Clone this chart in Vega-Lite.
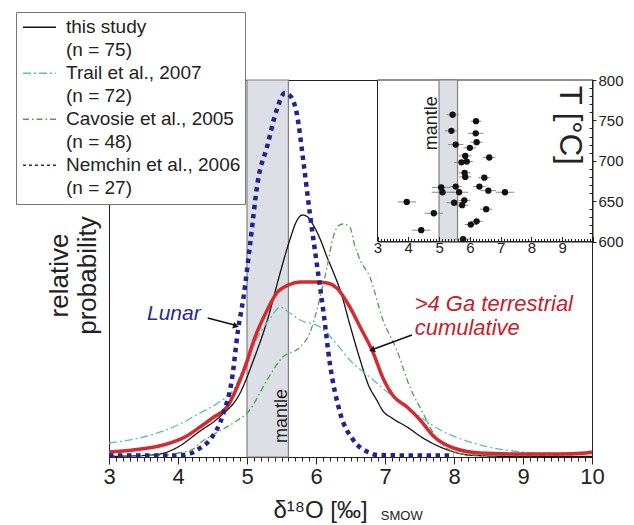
{
  "$schema": "https://vega.github.io/schema/vega-lite/v6.json",
  "width": 483,
  "height": 377,
  "autosize": {"type": "none"},
  "padding": {"left": 109, "top": 80, "right": 42, "bottom": 68},
  "config": {
    "font": "Liberation Sans",
    "view": {"stroke": "#222", "strokeWidth": 1},
    "axis": {"domainColor": "#222", "tickColor": "#222", "labelColor": "#222", "titleColor": "#222", "labelFont": "Liberation Sans", "titleFont": "Liberation Sans", "grid": false, "titleFontWeight": "normal", "zindex": 1}
  },
  "datasets": {
    "curves": [
      {"s": "this study", "x": 3.0, "y": 0.5}, {"s": "this study", "x": 3.3, "y": 1}, {"s": "this study", "x": 3.7, "y": 2.5}, {"s": "this study", "x": 4.0, "y": 10}, {"s": "this study", "x": 4.3, "y": 25}, {"s": "this study", "x": 4.6, "y": 40}, {"s": "this study", "x": 4.9, "y": 64}, {"s": "this study", "x": 5.1, "y": 98}, {"s": "this study", "x": 5.3, "y": 138}, {"s": "this study", "x": 5.48, "y": 184}, {"s": "this study", "x": 5.62, "y": 217}, {"s": "this study", "x": 5.72, "y": 236}, {"s": "this study", "x": 5.8, "y": 242}, {"s": "this study", "x": 5.88, "y": 240}, {"s": "this study", "x": 5.96, "y": 232}, {"s": "this study", "x": 6.06, "y": 218}, {"s": "this study", "x": 6.16, "y": 200}, {"s": "this study", "x": 6.25, "y": 185}, {"s": "this study", "x": 6.35, "y": 167}, {"s": "this study", "x": 6.5, "y": 130}, {"s": "this study", "x": 6.64, "y": 97}, {"s": "this study", "x": 6.76, "y": 72}, {"s": "this study", "x": 6.88, "y": 57}, {"s": "this study", "x": 6.97, "y": 46}, {"s": "this study", "x": 7.1, "y": 39}, {"s": "this study", "x": 7.32, "y": 30}, {"s": "this study", "x": 7.55, "y": 19}, {"s": "this study", "x": 7.8, "y": 10}, {"s": "this study", "x": 8.0, "y": 5}, {"s": "this study", "x": 8.2, "y": 2}, {"s": "this study", "x": 8.5, "y": 1}, {"s": "this study", "x": 9.0, "y": 0.5}, {"s": "this study", "x": 10.0, "y": 0.5},
      {"s": "Trail et al., 2007", "x": 3.0, "y": 14}, {"s": "Trail et al., 2007", "x": 3.5, "y": 20}, {"s": "Trail et al., 2007", "x": 4.0, "y": 32}, {"s": "Trail et al., 2007", "x": 4.32, "y": 44}, {"s": "Trail et al., 2007", "x": 4.6, "y": 55}, {"s": "Trail et al., 2007", "x": 4.8, "y": 67}, {"s": "Trail et al., 2007", "x": 5.04, "y": 104}, {"s": "Trail et al., 2007", "x": 5.19, "y": 124}, {"s": "Trail et al., 2007", "x": 5.35, "y": 140}, {"s": "Trail et al., 2007", "x": 5.48, "y": 150}, {"s": "Trail et al., 2007", "x": 5.6, "y": 145}, {"s": "Trail et al., 2007", "x": 5.77, "y": 137}, {"s": "Trail et al., 2007", "x": 6.06, "y": 130}, {"s": "Trail et al., 2007", "x": 6.25, "y": 117}, {"s": "Trail et al., 2007", "x": 6.49, "y": 97}, {"s": "Trail et al., 2007", "x": 6.83, "y": 77}, {"s": "Trail et al., 2007", "x": 7.05, "y": 64}, {"s": "Trail et al., 2007", "x": 7.32, "y": 50}, {"s": "Trail et al., 2007", "x": 7.8, "y": 27}, {"s": "Trail et al., 2007", "x": 8.28, "y": 14}, {"s": "Trail et al., 2007", "x": 9.0, "y": 5}, {"s": "Trail et al., 2007", "x": 9.5, "y": 3.5}, {"s": "Trail et al., 2007", "x": 10.0, "y": 3},
      {"s": "Cavosie et al., 2005", "x": 3.0, "y": 1}, {"s": "Cavosie et al., 2005", "x": 3.5, "y": 1.5}, {"s": "Cavosie et al., 2005", "x": 3.84, "y": 2}, {"s": "Cavosie et al., 2005", "x": 4.0, "y": 4}, {"s": "Cavosie et al., 2005", "x": 4.22, "y": 8}, {"s": "Cavosie et al., 2005", "x": 4.32, "y": 14}, {"s": "Cavosie et al., 2005", "x": 4.55, "y": 24}, {"s": "Cavosie et al., 2005", "x": 4.8, "y": 34}, {"s": "Cavosie et al., 2005", "x": 5.04, "y": 47}, {"s": "Cavosie et al., 2005", "x": 5.29, "y": 77}, {"s": "Cavosie et al., 2005", "x": 5.52, "y": 100}, {"s": "Cavosie et al., 2005", "x": 5.77, "y": 110}, {"s": "Cavosie et al., 2005", "x": 5.91, "y": 124}, {"s": "Cavosie et al., 2005", "x": 6.06, "y": 160}, {"s": "Cavosie et al., 2005", "x": 6.16, "y": 190}, {"s": "Cavosie et al., 2005", "x": 6.25, "y": 220}, {"s": "Cavosie et al., 2005", "x": 6.32, "y": 231}, {"s": "Cavosie et al., 2005", "x": 6.39, "y": 233}, {"s": "Cavosie et al., 2005", "x": 6.49, "y": 230}, {"s": "Cavosie et al., 2005", "x": 6.56, "y": 212}, {"s": "Cavosie et al., 2005", "x": 6.64, "y": 197}, {"s": "Cavosie et al., 2005", "x": 6.78, "y": 180}, {"s": "Cavosie et al., 2005", "x": 6.97, "y": 137}, {"s": "Cavosie et al., 2005", "x": 7.17, "y": 107}, {"s": "Cavosie et al., 2005", "x": 7.36, "y": 70}, {"s": "Cavosie et al., 2005", "x": 7.55, "y": 44}, {"s": "Cavosie et al., 2005", "x": 7.7, "y": 24}, {"s": "Cavosie et al., 2005", "x": 7.94, "y": 7}, {"s": "Cavosie et al., 2005", "x": 8.28, "y": 2}, {"s": "Cavosie et al., 2005", "x": 9.0, "y": 1.5}, {"s": "Cavosie et al., 2005", "x": 9.6, "y": 2}, {"s": "Cavosie et al., 2005", "x": 9.9, "y": 3}, {"s": "Cavosie et al., 2005", "x": 10.0, "y": 6},
      {"s": "Nemchin et al., 2006", "x": 3.0, "y": 1.5}, {"s": "Nemchin et al., 2006", "x": 4.0, "y": 1.5}, {"s": "Nemchin et al., 2006", "x": 4.2, "y": 4}, {"s": "Nemchin et al., 2006", "x": 4.32, "y": 9}, {"s": "Nemchin et al., 2006", "x": 4.46, "y": 17}, {"s": "Nemchin et al., 2006", "x": 4.66, "y": 44}, {"s": "Nemchin et al., 2006", "x": 4.78, "y": 77}, {"s": "Nemchin et al., 2006", "x": 4.87, "y": 127}, {"s": "Nemchin et al., 2006", "x": 4.95, "y": 160}, {"s": "Nemchin et al., 2006", "x": 5.04, "y": 210}, {"s": "Nemchin et al., 2006", "x": 5.16, "y": 277}, {"s": "Nemchin et al., 2006", "x": 5.29, "y": 310}, {"s": "Nemchin et al., 2006", "x": 5.43, "y": 347}, {"s": "Nemchin et al., 2006", "x": 5.55, "y": 364}, {"s": "Nemchin et al., 2006", "x": 5.64, "y": 360}, {"s": "Nemchin et al., 2006", "x": 5.72, "y": 344}, {"s": "Nemchin et al., 2006", "x": 5.82, "y": 294}, {"s": "Nemchin et al., 2006", "x": 5.91, "y": 244}, {"s": "Nemchin et al., 2006", "x": 6.01, "y": 194}, {"s": "Nemchin et al., 2006", "x": 6.11, "y": 144}, {"s": "Nemchin et al., 2006", "x": 6.2, "y": 94}, {"s": "Nemchin et al., 2006", "x": 6.35, "y": 44}, {"s": "Nemchin et al., 2006", "x": 6.54, "y": 17}, {"s": "Nemchin et al., 2006", "x": 6.75, "y": 5}, {"s": "Nemchin et al., 2006", "x": 6.9, "y": 2}, {"s": "Nemchin et al., 2006", "x": 7.5, "y": 1.5}, {"s": "Nemchin et al., 2006", "x": 8.0, "y": 1.5}
    ],
    "cum": [
      {"x": 3.0, "y": 5}, {"x": 3.35, "y": 7}, {"x": 3.84, "y": 13}, {"x": 4.1, "y": 20}, {"x": 4.32, "y": 30}, {"x": 4.5, "y": 39}, {"x": 4.71, "y": 50}, {"x": 4.94, "y": 84}, {"x": 5.14, "y": 124}, {"x": 5.3, "y": 148}, {"x": 5.43, "y": 164}, {"x": 5.6, "y": 172}, {"x": 5.77, "y": 175}, {"x": 6.0, "y": 175}, {"x": 6.16, "y": 174}, {"x": 6.3, "y": 169}, {"x": 6.49, "y": 150}, {"x": 6.64, "y": 130}, {"x": 6.83, "y": 104}, {"x": 6.97, "y": 79}, {"x": 7.12, "y": 61}, {"x": 7.32, "y": 50}, {"x": 7.51, "y": 37}, {"x": 7.7, "y": 21}, {"x": 7.99, "y": 9}, {"x": 8.38, "y": 4}, {"x": 9.0, "y": 3}, {"x": 9.5, "y": 3}, {"x": 9.9, "y": 4}, {"x": 10.0, "y": 5}
    ],
    "inset": [
      {"ix": 5.44, "T": 757, "err": 0.2}, {"ix": 6.2, "T": 749, "err": 0.17}, {"ix": 5.4, "T": 737, "err": 0.22}, {"ix": 6.19, "T": 734, "err": 0.25}, {"ix": 6.22, "T": 723, "err": 0.2}, {"ix": 5.54, "T": 720, "err": 0.25}, {"ix": 6.0, "T": 716, "err": 0.2}, {"ix": 5.85, "T": 706, "err": 0.2}, {"ix": 6.63, "T": 704, "err": 0.2}, {"ix": 5.73, "T": 698, "err": 0.25}, {"ix": 5.9, "T": 699, "err": 0.2}, {"ix": 5.83, "T": 685, "err": 0.2}, {"ix": 5.85, "T": 680, "err": 0.2}, {"ix": 6.47, "T": 679, "err": 0.2}, {"ix": 5.07, "T": 667, "err": 0.3}, {"ix": 5.11, "T": 661, "err": 0.35}, {"ix": 5.54, "T": 668, "err": 0.2}, {"ix": 5.65, "T": 661, "err": 0.3}, {"ix": 6.31, "T": 668, "err": 0.2}, {"ix": 6.6, "T": 663, "err": 0.25}, {"ix": 7.14, "T": 661, "err": 0.3}, {"ix": 3.95, "T": 649, "err": 0.3}, {"ix": 5.49, "T": 648, "err": 0.25}, {"ix": 5.82, "T": 651, "err": 0.2}, {"ix": 5.75, "T": 645, "err": 0.2}, {"ix": 6.53, "T": 640, "err": 0.2}, {"ix": 4.83, "T": 635, "err": 0.3}, {"ix": 6.22, "T": 625, "err": 0.2}, {"ix": 6.03, "T": 621, "err": 0.2}, {"ix": 4.42, "T": 614, "err": 0.3}, {"ix": 5.78, "T": 603, "err": 0.25}
    ]
  },
  "layer": [
    {
      "encoding": {
        "x": {"field": "x", "type": "quantitative", "scale": {"domain": [3, 10], "nice": false, "zero": false},
          "axis": {"orient": "bottom",
            "values": [3,3.1,3.2,3.3,3.4,3.5,3.6,3.7,3.8,3.9,4,4.1,4.2,4.3,4.4,4.5,4.6,4.7,4.8,4.9,5,5.1,5.2,5.3,5.4,5.5,5.6,5.7,5.8,5.9,6,6.1,6.2,6.3,6.4,6.5,6.6,6.7,6.8,6.9,7,7.1,7.2,7.3,7.4,7.5,7.6,7.7,7.8,7.9,8,8.1,8.2,8.3,8.4,8.5,8.6,8.7,8.8,8.9,9,9.1,9.2,9.3,9.4,9.5,9.6,9.7,9.8,9.9,10],
            "labelExpr": "datum.value % 1 === 0 ? format(datum.value, 'd') : ''",
            "labelOverlap": false, "labelFlush": false, "labelFontSize": 22, "labelPadding": 2,
            "tickSize": {"condition": {"test": "datum.value % 1 === 0", "value": 7}, "value": 4},
            "title": "δ¹⁸O [‰]", "titleFontSize": 24, "titleX": 164, "titleY": 60, "titleAlign": "left", "titleBaseline": "alphabetic"}},
        "y": {"field": "y", "type": "quantitative", "scale": {"domain": [0, 377], "nice": false, "zero": false},
          "axis": {"orient": "left", "ticks": false, "labels": false, "domain": true,
            "title": ["relative", "probability"], "titleFontSize": 26, "titleX": -42, "titleY": 195, "titleAngle": 270, "titleAlign": "center", "titleBaseline": "alphabetic", "titleLineHeight": 28}}
      },
      "layer": [
        {"data": {"values": [{"x": 5, "x2": 5.6, "y": 0, "y2": 377}]}, "mark": {"type": "rect", "color": "#dcdfe5", "stroke": "#808080", "strokeWidth": 1.2},
          "encoding": {"x2": {"field": "x2"}, "y2": {"field": "y2"}}},
        {"data": {"values": [{"x": 5.58, "y": 14, "t": "mantle"}]}, "mark": {"type": "text", "angle": 270, "align": "left", "baseline": "alphabetic", "fontSize": 18, "color": "#222"},
          "encoding": {"text": {"field": "t"}}},
        {"data": {"name": "curves"}, "transform": [{"filter": "datum.s !== 'Nemchin et al., 2006'"}],
          "mark": {"type": "line", "interpolate": "monotone", "strokeWidth": 1.3},
          "encoding": {
            "color": {"field": "s", "type": "nominal",
              "scale": {"domain": ["this study", "(n = 75)", "Trail et al., 2007", "(n = 72)", "Cavosie et al., 2005", "(n = 48)", "Nemchin et al., 2006", "(n = 27)"],
                "range": ["#111111", "transparent", "#5dbcc2", "transparent", "#4da345", "transparent", "#23238e", "transparent"]},
              "legend": {"title": null, "orient": "none", "legendX": -93, "legendY": -68, "symbolType": "stroke", "symbolSize": 1089, "symbolStrokeWidth": 1.5, "symbolOffset": 2, "labelFontSize": 19, "labelFont": "Liberation Sans", "labelColor": "#222", "labelOffset": 9, "labelLimit": 0, "padding": 4, "rowPadding": 0, "clipHeight": 22.4, "strokeColor": "#777", "fillColor": "white"}},
            "strokeDash": {"field": "s", "type": "nominal",
              "scale": {"domain": ["this study", "(n = 75)", "Trail et al., 2007", "(n = 72)", "Cavosie et al., 2005", "(n = 48)", "Nemchin et al., 2006", "(n = 27)"],
                "range": [[1, 0], [1, 0], [8, 3, 2, 3], [1, 0], [6, 3, 1.5, 3], [1, 0], [3, 3], [1, 0]]},
              "legend": {"title": null, "orient": "none", "legendX": -93, "legendY": -68, "symbolType": "stroke", "symbolSize": 1089, "symbolStrokeWidth": 1.5, "symbolOffset": 2, "labelFontSize": 19, "labelFont": "Liberation Sans", "labelColor": "#222", "labelOffset": 9, "labelLimit": 0, "padding": 4, "rowPadding": 0, "clipHeight": 22.4, "strokeColor": "#777", "fillColor": "white"}}
          }},
        {"data": {"name": "cum"}, "mark": {"type": "line", "interpolate": "monotone", "strokeWidth": 3.5, "color": "#d42a30"}},
        {"data": {"name": "curves"}, "transform": [{"filter": "datum.s === 'Nemchin et al., 2006'"}],
          "mark": {"type": "line", "interpolate": "monotone", "strokeWidth": 4.5, "color": "#23238e", "strokeDash": [4.5, 4.5]}},
        {"data": {"values": [{"x": 3.55, "y": 137, "t": "Lunar"}]}, "mark": {"type": "text", "align": "left", "baseline": "alphabetic", "fontSize": 21, "fontStyle": "italic", "color": "#2a2a96"},
          "encoding": {"text": {"field": "t"}}},
        {"data": {"values": [{"x": 7.43, "y": 146, "t": ">4 Ga terrestrial"}, {"x": 7.43, "y": 122, "t": "cumulative"}]}, "mark": {"type": "text", "align": "left", "baseline": "alphabetic", "fontSize": 22, "fontStyle": "italic", "color": "#c8202c"},
          "encoding": {"text": {"field": "t"}}},
        {"data": {"values": [{"x": 6.94, "y": -63, "t": "SMOW"}]}, "mark": {"type": "text", "align": "left", "baseline": "alphabetic", "fontSize": 13, "color": "#222"},
          "encoding": {"text": {"field": "t"}}},
        {"data": {"values": [{"x": 4.43, "y": 139, "x2": 4.82, "y2": 132}, {"x": 7.39, "y": 122, "x2": 6.84, "y2": 108}]}, "mark": {"type": "rule", "strokeWidth": 1.5, "color": "#111"},
          "encoding": {"x2": {"field": "x2"}, "y2": {"field": "y2"}}},
        {"data": {"values": [{"x": 4.84, "y": 131}]}, "mark": {"type": "point", "shape": "triangle-right", "angle": 16, "size": 45, "filled": true, "opacity": 1, "color": "#111"}},
        {"data": {"values": [{"x": 6.81, "y": 107}]}, "mark": {"type": "point", "shape": "triangle-right", "angle": 159, "size": 45, "filled": true, "opacity": 1, "color": "#111"}}
      ]
    },
    {
      "encoding": {
        "x": {"field": "ix", "type": "quantitative", "scale": {"domain": [3, 10], "range": [268.5, 484], "nice": false, "zero": false},
          "axis": {"orient": "bottom", "offset": -215.5, "zindex": 2,
            "values": [3,3.1,3.2,3.3,3.4,3.5,3.6,3.7,3.8,3.9,4,4.1,4.2,4.3,4.4,4.5,4.6,4.7,4.8,4.9,5,5.1,5.2,5.3,5.4,5.5,5.6,5.7,5.8,5.9,6,6.1,6.2,6.3,6.4,6.5,6.6,6.7,6.8,6.9,7,7.1,7.2,7.3,7.4,7.5,7.6,7.7,7.8,7.9,8,8.1,8.2,8.3,8.4,8.5,8.6,8.7,8.8,8.9,9,9.1,9.2,9.3,9.4,9.5,9.6,9.7,9.8,9.9,10],
            "labelExpr": "datum.value % 1 === 0 && datum.value < 10 ? format(datum.value, 'd') : ''",
            "labelOverlap": false, "labelFlush": false, "labelFontSize": 15, "labelPadding": 4,
            "tickSize": {"condition": {"test": "datum.value % 1 === 0", "value": -5}, "value": -3},
            "title": null}},
        "y": {"field": "T", "type": "quantitative", "scale": {"domain": [600, 800], "range": [161.5, 0], "nice": false, "zero": false},
          "axis": {"orient": "right", "zindex": 2,
            "values": [600,610,620,630,640,650,660,670,680,690,700,710,720,730,740,750,760,770,780,790,800],
            "labelExpr": "datum.value % 50 === 0 ? datum.label : ''",
            "labelOverlap": false, "labelFlush": false, "labelFontSize": 15, "labelPadding": 2,
            "tickSize": {"condition": {"test": "datum.value % 50 === 0", "value": 4}, "value": -3},
            "title": null}}
      },
      "layer": [
        {"data": {"values": [{"ix": 3, "ix2": 10, "T": 600, "T2": 800}]}, "mark": {"type": "rect", "color": "white", "stroke": "#222", "strokeWidth": 1},
          "encoding": {"x2": {"field": "ix2"}, "y2": {"field": "T2"}}},
        {"data": {"values": [{"ix": 5, "ix2": 5.6, "T": 600, "T2": 800}]}, "mark": {"type": "rect", "color": "#dcdfe5", "stroke": "#808080", "strokeWidth": 1.2},
          "encoding": {"x2": {"field": "ix2"}, "y2": {"field": "T2"}}},
        {"data": {"values": [{"ix": 4.93, "T": 713, "t": "mantle"}]}, "mark": {"type": "text", "angle": 270, "align": "left", "baseline": "alphabetic", "fontSize": 18, "color": "#222"},
          "encoding": {"text": {"field": "t"}}},
        {"data": {"values": [{"ix": 8.93, "T": 793, "t": "T [°C]"}]}, "mark": {"type": "text", "angle": 90, "align": "left", "baseline": "alphabetic", "fontSize": 31, "color": "#222"},
          "encoding": {"text": {"field": "t"}}},
        {"data": {"name": "inset"}, "mark": {"type": "errorbar", "rule": {"stroke": "#888", "strokeWidth": 1}},
          "encoding": {"xError": {"field": "err"}}},
        {"data": {"name": "inset"}, "mark": {"type": "circle", "size": 40, "color": "#111", "opacity": 1}}
      ]
    }
  ],
  "resolve": {"scale": {"x": "independent", "y": "independent"}, "axis": {"x": "independent", "y": "independent"}}
}
